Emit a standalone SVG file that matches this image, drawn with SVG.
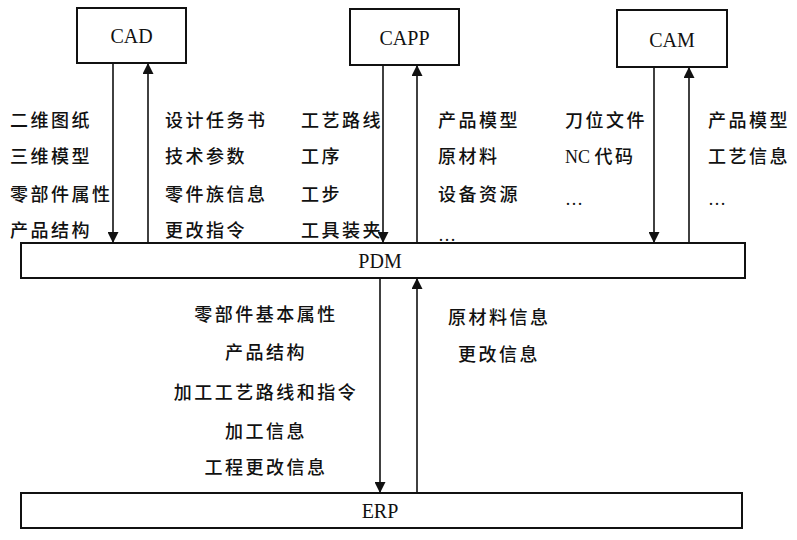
<svg xmlns="http://www.w3.org/2000/svg" width="797" height="540" viewBox="0 0 797 540">
<style>
.box{fill:#fff;stroke:#111;stroke-width:2}
.ln{stroke:#111;stroke-width:1.6;fill:none}
.en{font-family:"Liberation Serif",serif;font-size:20px;fill:#111;text-anchor:middle}
.zh{font-family:"Liberation Serif","Noto Sans CJK SC",sans-serif;font-size:18px;font-weight:500;fill:#111;letter-spacing:2.5px}
.zc{text-anchor:middle}
</style>
<defs>
<marker id="ah" viewBox="0 0 10 10" refX="10" refY="5" markerWidth="11" markerHeight="11" markerUnits="userSpaceOnUse" orient="auto">
<path d="M0,0 L10,5 L0,10 z" fill="#111"/>
</marker>
</defs>
<rect width="797" height="540" fill="#fff"/>
<g id="CAD"><rect class="box" x="77" y="8" width="109" height="55"/><text class="en" x="131.5" y="43">CAD</text></g>
<g id="CAPP"><rect class="box" x="350" y="9" width="109" height="56"/><text class="en" x="404.5" y="45">CAPP</text></g>
<g id="CAM"><rect class="box" x="617" y="10" width="110" height="57"/><text class="en" x="672" y="47">CAM</text></g>
<g id="PDM"><rect class="box" x="21" y="243" width="724" height="35"/><text class="en" x="380" y="268">PDM</text></g>
<g id="ERP"><rect class="box" x="21" y="493" width="721" height="35"/><text class="en" x="380" y="518">ERP</text></g>
<g id="connectors">
<line class="ln" x1="113" y1="63" x2="113" y2="243" marker-end="url(#ah)"/>
<line class="ln" x1="148" y1="243" x2="148" y2="63" marker-end="url(#ah)"/>
<line class="ln" x1="383" y1="65" x2="383" y2="243" marker-end="url(#ah)"/>
<line class="ln" x1="417" y1="243" x2="417" y2="65" marker-end="url(#ah)"/>
<line class="ln" x1="654" y1="67" x2="654" y2="243" marker-end="url(#ah)"/>
<line class="ln" x1="689" y1="243" x2="689" y2="67" marker-end="url(#ah)"/>
<line class="ln" x1="380" y1="278" x2="380" y2="493" marker-end="url(#ah)"/>
<line class="ln" x1="417" y1="493" x2="417" y2="278" marker-end="url(#ah)"/>
</g>
<g id="labels">
<text class="zh" x="10" y="127">二维图纸</text>
<text class="zh" x="10" y="163">三维模型</text>
<text class="zh" x="10" y="201">零部件属性</text>
<text class="zh" x="10" y="237">产品结构</text>
<text class="zh" x="165" y="127">设计任务书</text>
<text class="zh" x="165" y="163">技术参数</text>
<text class="zh" x="165" y="201">零件族信息</text>
<text class="zh" x="165" y="237">更改指令</text>
<text class="zh" x="301" y="127">工艺路线</text>
<text class="zh" x="301" y="163">工序</text>
<text class="zh" x="301" y="201">工步</text>
<text class="zh" x="301" y="237">工具装夹</text>
<text class="zh" x="438" y="127">产品模型</text>
<text class="zh" x="438" y="163">原材料</text>
<text class="zh" x="438" y="201">设备资源</text>
<text class="zh" x="438" y="241">…</text>
<text class="zh" x="565" y="127">刀位文件</text>
<text class="zh" x="565" y="163"><tspan letter-spacing="0">NC </tspan>代码</text>
<text class="zh" x="565" y="205">…</text>
<text class="zh" x="708" y="127">产品模型</text>
<text class="zh" x="708" y="163">工艺信息</text>
<text class="zh" x="708" y="205">…</text>
<text class="zh zc" x="266" y="321">零部件基本属性</text>
<text class="zh zc" x="266" y="359">产品结构</text>
<text class="zh zc" x="266" y="399">加工工艺路线和指令</text>
<text class="zh zc" x="266" y="438">加工信息</text>
<text class="zh zc" x="266" y="474">工程更改信息</text>
<text class="zh" x="448" y="324">原材料信息</text>
<text class="zh" x="458" y="361">更改信息</text>
</g>
</svg>
